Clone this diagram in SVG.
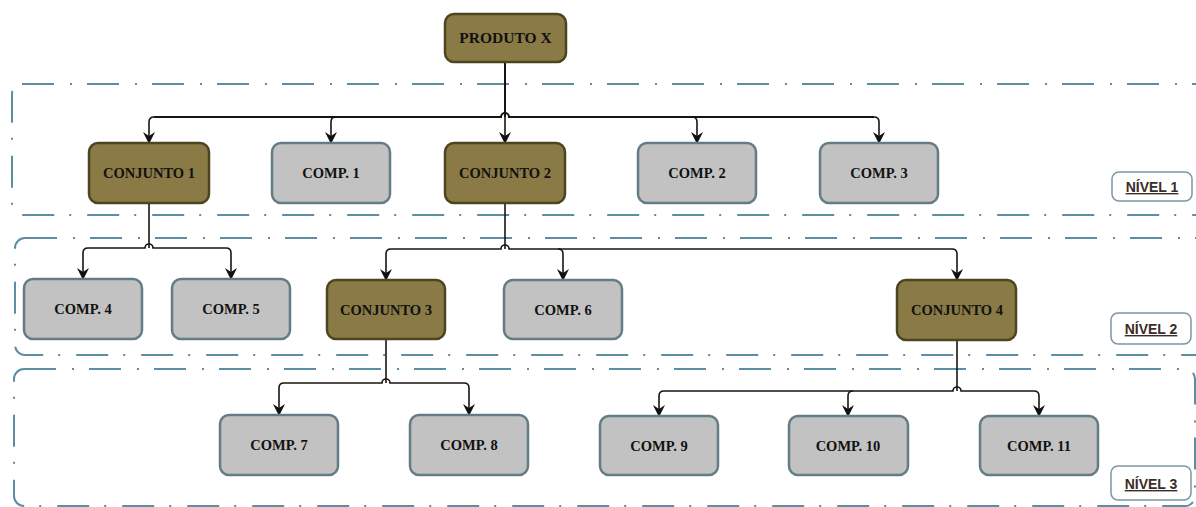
<svg xmlns="http://www.w3.org/2000/svg" width="1196" height="507" viewBox="0 0 1196 507">
<defs>
<style>
.bg{fill:#ffffff}
.region{fill:none;stroke:#5b8ea2;stroke-width:2;stroke-dasharray:32 16 2 15}
.asm rect{fill:#8a7a45;stroke:#4b4520;stroke-width:2.5}
.cmp rect{fill:#c2c2c2;stroke:#647c86;stroke-width:2.5}
.node text{font-family:"Liberation Serif",serif;font-weight:bold;font-size:14.5px;fill:#111;text-anchor:middle}
.lvl rect{fill:#ffffff;stroke:#7c97a3;stroke-width:1.5}
.lvl text{font-family:"Liberation Sans",sans-serif;font-weight:bold;font-size:14px;fill:#3a2c26;text-anchor:middle;text-decoration:underline}
.conn path{fill:none;stroke:#1a1410;stroke-width:1.6}
.conn .arr{marker-end:url(#ah)}
</style>
<marker id="ah" viewBox="0 0 12 12" refX="11" refY="6" markerWidth="12" markerHeight="12" markerUnits="userSpaceOnUse" orient="auto">
<path d="M0,0 L4,6 L0,12 L12,6 Z" fill="#111"/>
</marker>
</defs>
<rect class="bg" x="0" y="0" width="1196" height="507"/>

<g id="regions">
<rect class="region" x="12" y="84" width="1200" height="131" rx="10"/>
<rect class="region" x="15" y="238" width="1200" height="117" rx="10"/>
<rect class="region" x="14" y="369" width="1181" height="137" rx="10"/>
</g>

<g id="connectors" class="conn">
<!-- level 0 to 1 -->
<path d="M505,62 L505,117" style="stroke-width:2"/>
<path d="M154,117 L501,117 A4,4 0 0 1 509,117 L874,117" style="stroke-width:2"/>
<path class="arr" d="M154,117 Q149,117 149,122 L149,143"/>
<path class="arr" d="M336,117 Q331,117 331,122 L331,143"/>
<path class="arr" d="M505,117 L505,143"/>
<path class="arr" d="M692,117 Q697,117 697,122 L697,143"/>
<path class="arr" d="M874,117 Q879,117 879,122 L879,143"/>
<!-- conjunto 1 -->
<path d="M149,203 L149,248"/>
<path d="M88,248 L145,248 A4,4 0 0 1 153,248 L226,248"/>
<path class="arr" d="M88,248 Q83,248 83,253 L83,279"/>
<path class="arr" d="M226,248 Q231,248 231,253 L231,279"/>
<!-- conjunto 2 -->
<path d="M505,203 L505,249"/>
<path d="M391,249 L501,249 A4,4 0 0 1 509,249 L952,249"/>
<path class="arr" d="M391,249 Q386,249 386,254 L386,280"/>
<path class="arr" d="M558,249 Q563,249 563,254 L563,280"/>
<path class="arr" d="M952,249 Q957,249 957,254 L957,280"/>
<!-- conjunto 3 -->
<path d="M386,339 L386,383"/>
<path d="M284,383 L382,383 A4,4 0 0 1 390,383 L464,383"/>
<path class="arr" d="M284,383 Q279,383 279,388 L279,415"/>
<path class="arr" d="M464,383 Q469,383 469,388 L469,415"/>
<!-- conjunto 4 -->
<path d="M957,340 L957,391"/>
<path d="M664,391 L953,391 A4,4 0 0 1 961,391 L1034,391"/>
<path class="arr" d="M664,391 Q659,391 659,396 L659,416"/>
<path class="arr" d="M853,391 Q848,391 848,396 L848,416"/>
<path class="arr" d="M1034,391 Q1039,391 1039,396 L1039,416"/>
</g>

<g id="produto-x" class="node asm"><rect x="445" y="14" width="121" height="48" rx="9"/><text x="505.5" y="43" style="font-size:15.5px">PRODUTO X</text></g>

<g id="conjunto-1" class="node asm"><rect x="89" y="143" width="120" height="60" rx="9"/><text x="149" y="178">CONJUNTO 1</text></g>
<g id="comp-1" class="node cmp"><rect x="272" y="143" width="118" height="60" rx="9"/><text x="331" y="178">COMP. 1</text></g>
<g id="conjunto-2" class="node asm"><rect x="445" y="143" width="120" height="60" rx="9"/><text x="505" y="178">CONJUNTO 2</text></g>
<g id="comp-2" class="node cmp"><rect x="638" y="143" width="118" height="60" rx="9"/><text x="697" y="178">COMP. 2</text></g>
<g id="comp-3" class="node cmp"><rect x="820" y="143" width="118" height="60" rx="9"/><text x="879" y="178">COMP. 3</text></g>

<g id="comp-4" class="node cmp"><rect x="24" y="279" width="118" height="60" rx="9"/><text x="83" y="314">COMP. 4</text></g>
<g id="comp-5" class="node cmp"><rect x="172" y="279" width="118" height="60" rx="9"/><text x="231" y="314">COMP. 5</text></g>
<g id="conjunto-3" class="node asm"><rect x="327" y="280" width="118" height="59" rx="9"/><text x="386" y="315">CONJUNTO 3</text></g>
<g id="comp-6" class="node cmp"><rect x="504" y="280" width="118" height="59" rx="9"/><text x="563" y="315">COMP. 6</text></g>
<g id="conjunto-4" class="node asm"><rect x="897" y="280" width="119" height="60" rx="9"/><text x="957" y="315">CONJUNTO 4</text></g>

<g id="comp-7" class="node cmp"><rect x="220" y="415" width="118" height="60" rx="9"/><text x="279" y="450">COMP. 7</text></g>
<g id="comp-8" class="node cmp"><rect x="410" y="415" width="118" height="60" rx="9"/><text x="469" y="450">COMP. 8</text></g>
<g id="comp-9" class="node cmp"><rect x="600" y="416" width="118" height="59" rx="9"/><text x="659" y="451">COMP. 9</text></g>
<g id="comp-10" class="node cmp"><rect x="789" y="416" width="119" height="59" rx="9"/><text x="848" y="451">COMP. 10</text></g>
<g id="comp-11" class="node cmp"><rect x="980" y="416" width="118" height="59" rx="9"/><text x="1039" y="451">COMP.  11</text></g>

<g id="nivel-1" class="lvl"><rect x="1112" y="172" width="80" height="29" rx="7"/><text x="1152" y="192">NÍVEL 1</text></g>
<g id="nivel-2" class="lvl"><rect x="1111" y="313" width="80" height="31" rx="7"/><text x="1151" y="334">NÍVEL 2</text></g>
<g id="nivel-3" class="lvl"><rect x="1111" y="466" width="80" height="34" rx="7"/><text x="1151" y="489">NÍVEL 3</text></g>
</svg>
